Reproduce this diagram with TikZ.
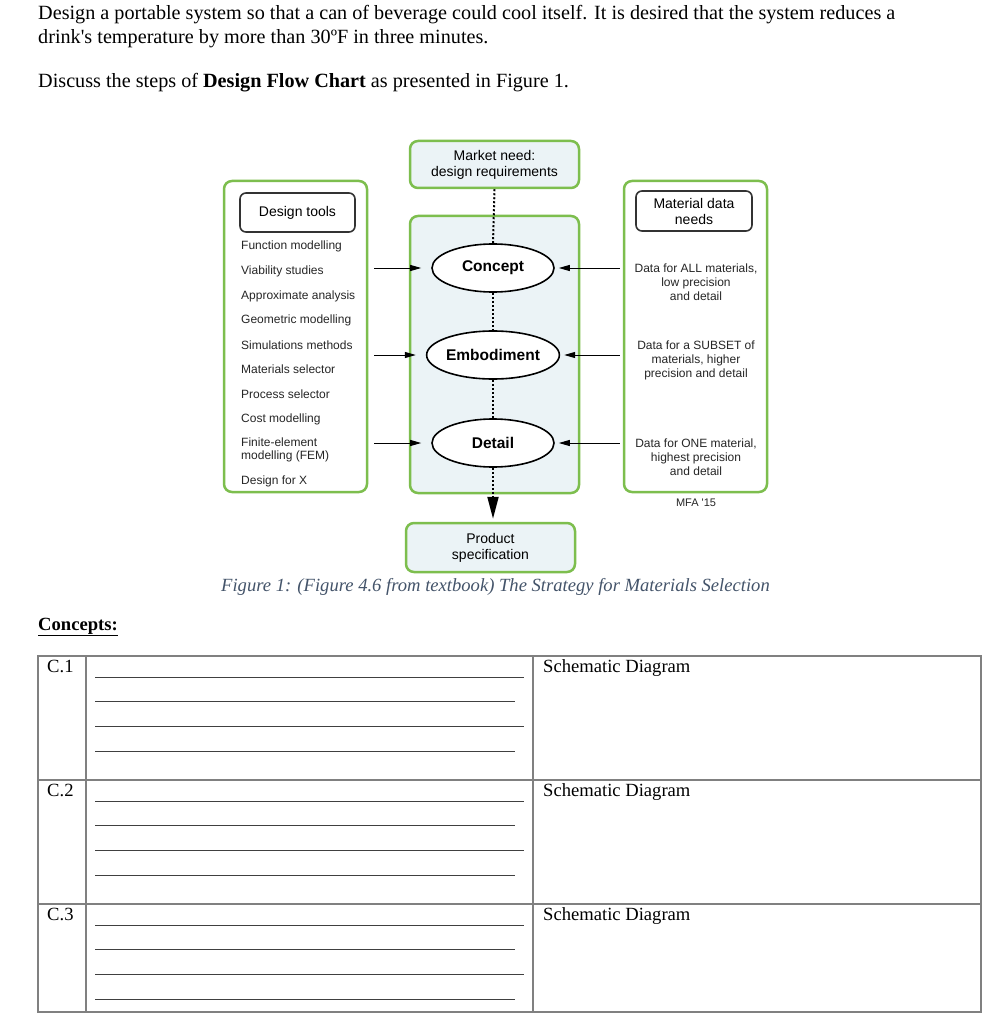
\documentclass[tikz,border=0pt]{standalone}
\usepackage{fontspec}
\setmainfont{Liberation Serif}
\newfontfamily\arial{Liberation Sans}
\usetikzlibrary{arrows.meta,shapes.geometric}
\definecolor{gbord}{HTML}{7DBE4E}
\definecolor{bfill}{HTML}{EBF3F6}
\definecolor{capc}{HTML}{44546A}
\definecolor{tgray}{HTML}{808080}
\tikzset{
  txt/.style={anchor=base west, inner sep=0pt, font=\fontsize{18.6}{22}\selectfont},
  htxt/.style={anchor=base west, inner sep=0pt, font=\fontsize{20.2}{24}\selectfont},
  gbox/.style={draw=gbord, line width=2.5pt, rounded corners=8pt, inner sep=0pt},
  bbox/.style={draw=black!80, line width=1.6pt, rounded corners=6pt, inner sep=0pt, fill=white, align=center, font=\arial\fontsize{14}{16}\selectfont},
  stage/.style={ellipse, draw=black, line width=1.6pt, fill=white, inner sep=0pt, minimum width=122pt, minimum height=48pt, font=\arial\bfseries\fontsize{15.5}{18}\selectfont},
  item/.style={anchor=west, inner sep=0pt, align=left, font=\arial\fontsize{12}{13}\selectfont, text=black!85},
  rtxt/.style={inner sep=0pt, align=center, font=\arial\fontsize{12}{14}\selectfont, text=black!85},
  arr/.style={line width=1pt, -{Triangle[length=11pt,width=6pt]}},
  dots/.style={line width=2pt, dash pattern=on 2pt off 2pt},
  tline/.style={draw=tgray, line width=1.3pt},
  uline/.style={draw=black!75, line width=0.9pt},
}
\begin{document}
\begin{tikzpicture}[x=1pt,y=-1pt]
\useasboundingbox (0,0) rectangle (987,1024);
\fill[white] (0,0) rectangle (987,1024);

% header text
\node[htxt] (h1) at (38,20) {Design a portable system so that a can of beverage could cool itself. It is desired that the system reduces a};
\node[htxt] (h2) at (38,44) {drink\textquotesingle s temperature by more than 30ºF in three minutes.};
\node[htxt] (h3) at (38,88) {Discuss the steps of \textbf{Design Flow Chart} as presented in Figure 1.};

% figure boxes
\node[gbox, fill=white, minimum width=143pt, minimum height=311pt] (lbox) at (295.5,336.5) {};
\node[gbox, fill=white, minimum width=143pt, minimum height=311pt] (rbox) at (695.5,336.5) {};
\node[gbox, fill=bfill, minimum width=169pt, minimum height=277pt] (cbox) at (494.5,354.5) {};
\node[gbox, fill=bfill, minimum width=169pt, minimum height=47pt, align=center, font=\arial\fontsize{14}{16}\selectfont] (mkt) at (494.5,164.5) {Market need:\\design requirements};
\node[gbox, fill=bfill, minimum width=169pt, minimum height=49pt, align=center, font=\arial\fontsize{14}{16}\selectfont] (prod) at (490.5,547.5) {Product\\specification};

\node[bbox, minimum width=115pt, minimum height=39pt] (dtools) at (297.5,212.5) {Design tools};
\node[bbox, minimum width=116pt, minimum height=40pt] (mdata) at (694,211) {Material data\\needs};

\node[stage] (c1) at (493,268) {Concept};
\node[stage] (c2) at (493,355) {Embodiment};
\node[stage] (c3) at (493,443) {Detail};

% design tools list
\node[item] (i1) at (241,246) {Function modelling};
\node[item] (i2) at (241,271) {Viability studies};
\node[item] (i3) at (241,296) {Approximate analysis};
\node[item] (i4) at (241,320) {Geometric modelling};
\node[item] (i5) at (241,345) {Simulations methods};
\node[item] (i6) at (241,369) {Materials selector};
\node[item] (i7) at (241,394) {Process selector};
\node[item] (i8) at (241,419) {Cost modelling};
\node[item] (i9) at (241,449.5) {Finite-element\\modelling (FEM)};
\node[item] (i10) at (241,481) {Design for X};

% material data texts
\node[rtxt] (r1) at (696,282) {Data for ALL materials,\\low precision\\and detail};
\node[rtxt] (r2) at (696,360) {Data for a SUBSET of\\materials, higher\\precision and detail};
\node[rtxt] (r3) at (696,457) {Data for ONE material,\\highest precision\\and detail};
\node[rtxt, font=\arial\fontsize{11}{13}\selectfont] (mfa) at (696,503) {MFA '15};

% connectors
\draw[dots] (mkt.south) -- (c1.north);
\draw[dots] (c1.south) -- (c2.north);
\draw[dots] (c2.south) -- (c3.north);
\draw[dots, shorten >=3pt, -{Triangle[length=22pt,width=11pt]}] (c3.south) -- (c3.south |- prod.north);
\foreach \c in {c1,c2,c3}{
  \draw[arr] ([xshift=6pt]lbox.east |- \c) -- ([xshift=-10pt]\c.west);
  \draw[arr] ([xshift=-3pt]rbox.west |- \c) -- ([xshift=4pt]\c.east);
}

% caption
\node[txt, text=capc, font=\itshape\fontsize{18.6}{22}\selectfont] (cap) at (221,591) {Figure 1: (Figure 4.6 from textbook) The Strategy for Materials Selection};

% concepts
\node[txt, font=\bfseries\fontsize{18.6}{22}\selectfont] (conc) at (38,630) {\underline{Concepts:}};

% table
\draw[tline] (38,656) rectangle (981,1012);
\draw[tline] (86,656) -- (86,1012);
\draw[tline] (533,656) -- (533,1012);
\draw[tline] (38,780) -- (981,780);
\draw[tline] (38,904) -- (981,904);
\foreach \y/\lab [count=\i] in {656/C.1,780/C.2,904/C.3}{
  \node[txt] (lab\i) at (47,\y+16) {\lab};
  \node[txt] (sch\i) at (543,\y+16) {Schematic Diagram};
  \draw[uline] (95,\y+21) -- (524,\y+21);
  \draw[uline] (95,\y+45) -- (515,\y+45);
  \draw[uline] (95,\y+70) -- (524,\y+70);
  \draw[uline] (95,\y+95) -- (515,\y+95);
}
\end{tikzpicture}
\end{document}
